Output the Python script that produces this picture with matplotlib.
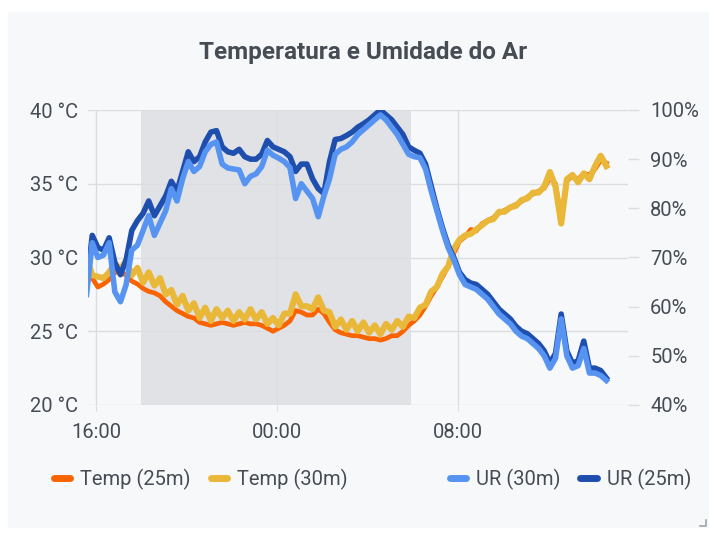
import numpy as np
import matplotlib
matplotlib.use('Agg')
from matplotlib import pyplot as plt
from matplotlib.patches import Rectangle
from matplotlib.lines import Line2D

plt.rcParams['font.family'] = ['Roboto', 'DejaVu Sans']

# amostras a cada 15 min, horas contadas a partir das 16:00 (15:35 ... 14:35)
horas = -0.417 + 0.25 * np.arange(93)

temp_25 = [29.8, 28.6, 28.0, 28.2, 28.5, 29.0, 29.0, 28.8, 28.4, 28.2,
           27.9, 27.7, 27.6, 27.4, 27.0, 26.7, 26.4, 26.2, 26.0, 25.9,
           25.6, 25.5, 25.4, 25.5, 25.6, 25.5, 25.4, 25.5, 25.6, 25.5,
           25.5, 25.4, 25.2, 25.0, 25.2, 25.4, 25.7, 26.4, 26.3, 26.1,
           26.1, 26.5, 26.2, 25.6, 25.1, 24.9, 24.8, 24.7, 24.7, 24.6,
           24.5, 24.5, 24.4, 24.5, 24.7, 24.7, 25.0, 25.4, 25.7, 26.1,
           26.7, 27.4, 28.0, 28.7, 29.4, 30.3, 31.1, 31.4, 31.9, 31.8,
           32.3, 32.5, 32.7, 33.0, 33.2, 33.4, 33.6, 33.8, 34.1, 34.3,
           34.5, 34.7, 35.4, 35.0, 32.6, 35.2, 35.5, 35.3, 35.7, 35.6,
           36.0, 36.6, 36.4]

temp_30 = [30.0, 28.8, 28.7, 28.6, 29.0, 29.6, 29.2, 29.8, 28.8, 29.3,
           28.3, 29.0, 28.1, 28.6, 27.5, 27.8, 26.8, 27.4, 26.4, 26.9,
           25.9, 26.6, 25.7, 26.5, 25.9, 26.4, 25.7, 26.3, 25.8, 26.5,
           25.8, 26.3, 25.5, 25.9, 25.4, 26.2, 26.2, 27.5, 26.7, 26.7,
           26.5, 27.3, 26.4, 26.3, 25.3, 25.8, 25.1, 25.7, 25.0, 25.6,
           24.9, 25.4, 24.8, 25.5, 25.1, 25.7, 25.3, 26.0, 25.9, 26.6,
           26.8, 27.7, 28.0, 28.9, 29.4, 30.6, 31.2, 31.5, 31.6, 31.9,
           32.2, 32.5, 32.6, 33.1, 33.1, 33.4, 33.5, 33.9, 34.0, 34.4,
           34.4, 34.8, 35.8, 34.8, 32.3, 35.3, 35.6, 35.1, 35.7, 35.3,
           36.2, 36.9, 36.2]

ur_30 = [62.5, 73, 70, 70.5, 73, 63, 61, 64.5, 71.5, 72.5,
         75.5, 78.5, 74.5, 77, 79.5, 84, 81.5, 86, 89.5, 87.5,
         88.5, 91.5, 93, 93.5, 89, 88.2, 88, 87.8, 85, 86.5,
         87, 88.5, 91.8, 90.8, 90.2, 89.5, 88.3, 82, 85, 83.5,
         82, 78.3, 82.5, 86, 91, 92, 92.5, 93.5, 95, 96,
         97, 98, 99, 98, 96.5, 95, 93, 91, 90.5, 90.3,
         88, 83.5, 79.5, 75.5, 72, 69.5, 66.5, 64.5, 64, 63.5,
         62.5, 61.5, 60, 58.5, 57.5, 56.5, 55, 54, 53.5, 52.5,
         51.5, 50, 47.5, 49.5, 57.5, 50, 47.5, 48, 51.5, 46.5,
         46.5, 46, 45]

ur_25 = [64, 74.5, 72, 71.5, 74, 69, 66.5, 69.5, 75.5, 77.5,
         79, 81.5, 78.5, 80.5, 82.5, 85.5, 83.5, 87.5, 91.5, 89.5,
         90.5, 93.5, 95.5, 95.8, 92.5, 91.5, 91.2, 92, 90.5, 90,
         90, 91, 93.8, 92.5, 92, 91.5, 90.5, 87.5, 89, 89,
         86, 84, 83, 89.5, 94, 94.2, 94.8, 95.5, 96.5, 97.2,
         98, 99, 100, 99, 98, 96.5, 95, 92.5, 91.8, 91.2,
         89, 84.5, 80, 76, 72.5, 70, 67, 65.5, 64.8, 64.5,
         63.5, 62.5, 61, 59.5, 58.5, 57.5, 56, 55, 54.5, 53.5,
         52.5, 51, 48.5, 50.5, 58.5, 51, 48.5, 49, 53, 47.5,
         47.5, 47, 45.5]

x_ticks = [0, 8, 16]
x_labels = ['16:00', '00:00', '08:00']
t_ticks = [20, 25, 30, 35, 40]
t_labels = ['20 °C', '25 °C', '30 °C', '35 °C', '40 °C']
u_ticks = [40, 50, 60, 70, 80, 90, 100]
u_labels = ['40%', '50%', '60%', '70%', '80%', '90%', '100%']
noite = (2.0, 13.93)  # 18:00 -> ~06:00

bg = '#f7f8fa'
txt = '#464c54'
grid = '#dcdde0'
fs = 14.5

fig = plt.figure(figsize=(7.09, 5.34), dpi=100)
fig.patch.set_facecolor('white')
fig.patches.append(Rectangle((8 / 709, 1 - 527 / 534), 701 / 709, 515 / 534,
                             transform=fig.transFigure, color=bg, zorder=-10))

ax = fig.add_axes([88 / 709, 1 - 405 / 534, 540 / 709, 295 / 534])
ax.set_facecolor(bg)
for s in ax.spines.values():
    s.set_visible(False)

ax.axvspan(noite[0], noite[1], color='#e1e2e5', lw=0, zorder=0)

l1, = ax.plot(horas, temp_25, color='#fa6400', lw=3.4, zorder=3, label='Temp (25m)')
l2, = ax.plot(horas, temp_30, color='#eab839', lw=4.4, zorder=4, label='Temp (30m)')

ax.set_xlim(-0.354, 23.54)
ax.set_ylim(20, 40)
ax.set_xticks(x_ticks)
ax.set_xticklabels(x_labels)
ax.set_yticks(t_ticks)
ax.set_yticklabels(t_labels)
ax.grid(True, color=grid, lw=1, zorder=1)
ax.set_axisbelow(True)
ax.tick_params(axis='y', length=0, pad=7, labelsize=fs, labelcolor=txt)
ax.tick_params(axis='x', length=4, color=grid, pad=9, labelsize=fs, labelcolor=txt)

ax2 = ax.twinx()
for s in ax2.spines.values():
    s.set_visible(False)
l4, = ax2.plot(horas, ur_25, color='#1f4fae', lw=4.0, zorder=3, label='UR (25m)')
l3, = ax2.plot(horas, ur_30, color='#5794f2', lw=4.0, zorder=4, label='UR (30m)')
ax2.set_ylim(40, 100)
ax2.set_yticks(u_ticks)
ax2.set_yticklabels(u_labels)
ax2.tick_params(axis='y', length=8, color=grid, width=1, pad=8, labelsize=fs, labelcolor=txt)

fig.text(363 / 709, 1 - 52 / 534, 'Temperatura e Umidade do Ar', ha='center', va='center',
         fontsize=17.5, fontweight='semibold', color=txt)

def handle(c):
    return Line2D([], [], color=c, lw=5, solid_capstyle='round')

leg_kw = dict(frameon=False, ncol=2, fontsize=fs, handlelength=0.8, handletextpad=0.5,
              columnspacing=1.0, labelcolor=txt, borderaxespad=0)
leg1 = fig.legend([handle('#fa6400'), handle('#eab839')], ['Temp (25m)', 'Temp (30m)'],
                  loc='center left', bbox_to_anchor=(46 / 709, 1 - 479 / 534), **leg_kw)
leg2 = fig.legend([handle('#5794f2'), handle('#1f4fae')], ['UR (30m)', 'UR (25m)'],
                  loc='center right', bbox_to_anchor=(699 / 709, 1 - 479 / 534), **leg_kw)

# canto de redimensionar
fig.add_artist(Line2D([700 / 709, 706 / 709, 706 / 709], [1 - 526 / 534, 1 - 526 / 534, 1 - 520 / 534],
                      transform=fig.transFigure, color='#9fa3a8', lw=1.2))

fig.savefig('out.png', dpi=100, facecolor='white')
